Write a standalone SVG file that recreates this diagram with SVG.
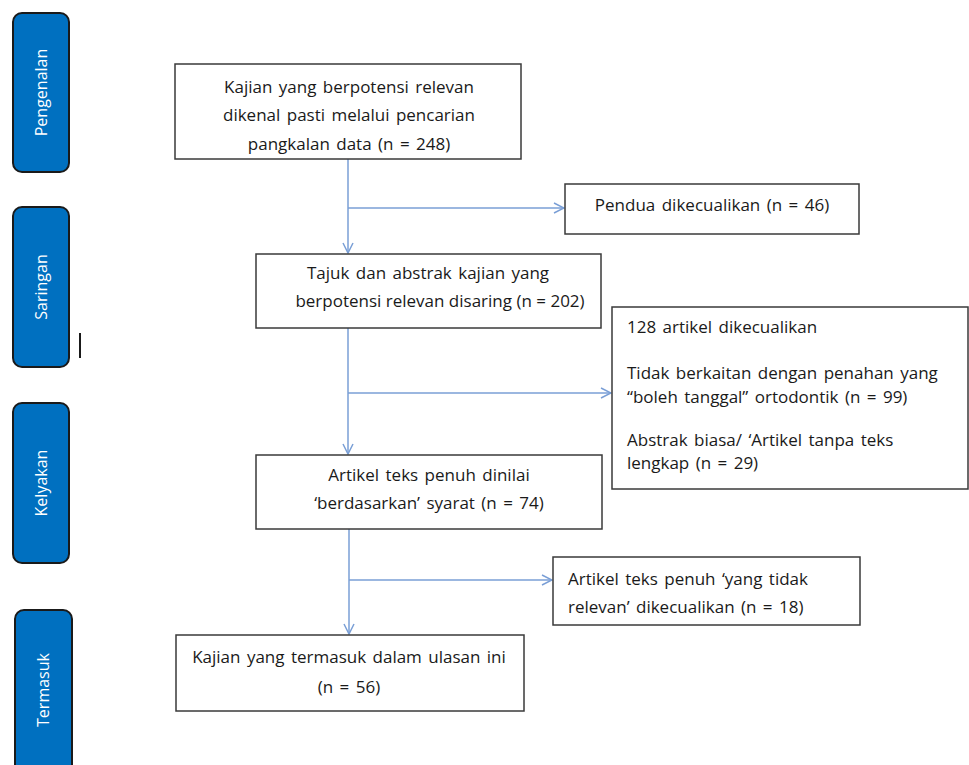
<svg xmlns="http://www.w3.org/2000/svg" width="969" height="765" viewBox="0 0 969 765">
<defs>
<style>
.box{fill:#fff;stroke:#3a3a3a;stroke-width:1.5}
.side{fill:#0070C0;stroke:#1a1a1a;stroke-width:2}
.t{font-family:"Open Sans","Liberation Sans",sans-serif;font-size:17px;word-spacing:2px;fill:#1a1a1a}
.c{text-anchor:middle}
.st{font-family:"Open Sans","Liberation Sans",sans-serif;font-size:16px;fill:#fff;text-anchor:middle}
.ln{fill:none;stroke:#7a9fd6;stroke-width:1.5}
</style>
<marker id="ah" viewBox="0 0 12 12" refX="11" refY="6" markerWidth="12" markerHeight="12" markerUnits="userSpaceOnUse" orient="auto">
<path d="M1,1 L11,6 L1,11" fill="none" stroke="#7a9fd6" stroke-width="1.5"/>
</marker>
</defs>
<rect width="969" height="765" fill="#fff"/>

<g id="side-pengenalan">
<rect class="side" x="13" y="13" width="56" height="159" rx="9"/>
<text class="st" transform="translate(47,92.5) rotate(-90)">Pengenalan</text>
</g>
<g id="side-saringan">
<rect class="side" x="13" y="207" width="56" height="160" rx="9"/>
<text class="st" transform="translate(47,287) rotate(-90)">Saringan</text>
</g>
<line x1="80" y1="333" x2="80" y2="358" stroke="#1a1a1a" stroke-width="2"/>
<g id="side-kelyakan">
<rect class="side" x="13" y="403" width="56" height="160" rx="9"/>
<text class="st" transform="translate(47,483) rotate(-90)">Kelyakan</text>
</g>
<g id="side-termasuk">
<rect class="side" x="15" y="610" width="57" height="175" rx="9"/>
<text class="st" transform="translate(49,690) rotate(-90)">Termasuk</text>
</g>

<g id="connectors">
<line class="ln" x1="348" y1="159" x2="348" y2="253" marker-end="url(#ah)"/>
<line class="ln" x1="348" y1="208" x2="564" y2="208" marker-end="url(#ah)"/>
<line class="ln" x1="348" y1="328" x2="348" y2="454" marker-end="url(#ah)"/>
<line class="ln" x1="348" y1="393" x2="611" y2="393" marker-end="url(#ah)"/>
<line class="ln" x1="349" y1="529" x2="349" y2="634" marker-end="url(#ah)"/>
<line class="ln" x1="349" y1="580" x2="552" y2="580" marker-end="url(#ah)"/>
</g>

<g id="n1">
<rect class="box" x="175" y="64" width="346" height="95"/>
<text class="t c" x="349" y="93">Kajian yang berpotensi relevan</text>
<text class="t c" x="349" y="121">dikenal pasti melalui pencarian</text>
<text class="t c" x="349" y="150">pangkalan data (n = 248)</text>
</g>
<g id="n2">
<rect class="box" x="565" y="184" width="294" height="50"/>
<text class="t c" x="712" y="211">Pendua dikecualikan (n = 46)</text>
</g>
<g id="n3">
<rect class="box" x="256" y="254" width="345" height="74"/>
<text class="t c" x="428" y="279">Tajuk dan abstrak kajian yang</text>
<text class="t c" x="440" y="307" style="word-spacing:0">berpotensi relevan disaring (n = 202)</text>
</g>
<g id="n4">
<rect class="box" x="612" y="307" width="356" height="182"/>
<text class="t" x="627" y="333">128 artikel dikecualikan</text>
<text class="t" x="627" y="379">Tidak berkaitan dengan penahan yang</text>
<text class="t" x="627" y="403">“boleh tanggal” ortodontik (n = 99)</text>
<text class="t" x="627" y="446">Abstrak biasa/ ‘Artikel tanpa teks</text>
<text class="t" x="627" y="469">lengkap (n = 29)</text>
</g>
<g id="n5">
<rect class="box" x="256" y="455" width="346" height="74"/>
<text class="t c" x="429" y="481">Artikel teks penuh dinilai</text>
<text class="t c" x="429" y="509">‘berdasarkan’ syarat (n = 74)</text>
</g>
<g id="n6">
<rect class="box" x="553" y="557" width="307" height="68"/>
<text class="t" x="568" y="585">Artikel teks penuh ‘yang tidak</text>
<text class="t" x="568" y="613">relevan’ dikecualikan (n = 18)</text>
</g>
<g id="n7">
<rect class="box" x="176" y="635" width="348" height="76"/>
<text class="t c" x="349" y="663">Kajian yang termasuk dalam ulasan ini</text>
<text class="t c" x="349" y="693">(n = 56)</text>
</g>
</svg>
